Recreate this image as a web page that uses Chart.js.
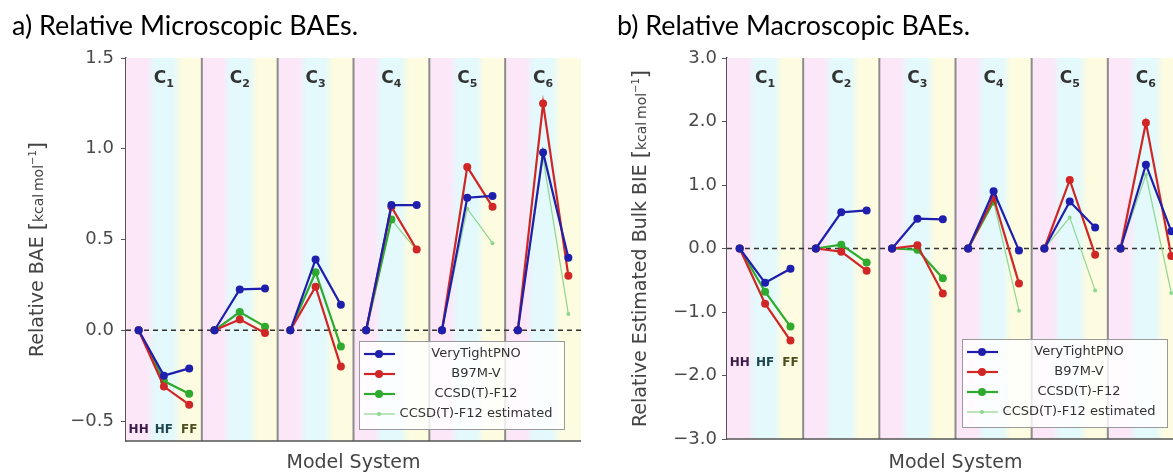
<!DOCTYPE html>
<html lang="en">
<head>
<meta charset="UTF-8">
<title>Relative BAEs</title>
<script src="https://cdn.jsdelivr.net/npm/chart.js@4"></script>
<style>
  html, body { margin: 0; padding: 0; background: #fff; overflow: hidden; }
  body { width: 1173px; height: 472px; position: relative; }
  canvas { position: absolute; top: 0; }
  #micro { left: 0; }
  #macro { left: 600px; }
</style>
</head>
<body>
<canvas id="micro" width="600" height="472"></canvas>
<canvas id="macro" width="600" height="472"></canvas>
<script>
// groups C1..C6, each with three pairs HH / HF / FF
const groupNumbers = ['1', '2', '3', '4', '5', '6'];
const pairLabels = ['HH', 'HF', 'FF'];
const seriesNames = ['VeryTightPNO', 'B97M-V', 'CCSD(T)-F12', 'CCSD(T)-F12 estimated'];

// a) relative microscopic BAEs (kcal/mol)
const microTicks = [-0.5, 0, 0.5, 1.0, 1.5];
const microPNO = [0, -0.25, -0.21, 0, 0.225, 0.23, 0, 0.39, 0.14, 0, 0.69, 0.69, 0, 0.73, 0.74, 0, 0.98, 0.40];
const microB97 = [0, -0.31, -0.41, 0, 0.06, -0.015, 0, 0.24, -0.20, 0, 0.68, 0.445, 0, 0.90, 0.68, 0, 1.25, 0.30];
const microF12 = [0, -0.28, -0.35, 0, 0.10, 0.02, 0, 0.32, -0.09, 0, 0.61, null, 0, null, null, 0, null, null];
const microEst = [null, null, null, null, null, null, null, null, null, 0, 0.61, 0.44, 0, 0.67, 0.48, 0, 0.95, 0.09];

// b) relative macroscopic BAEs (kcal/mol)
const macroTicks = [-3, -2, -1, 0, 1, 2, 3];
const macroPNO = [0, -0.54, -0.32, 0, 0.57, 0.60, 0, 0.47, 0.46, 0, 0.90, -0.03, 0, 0.74, 0.33, 0, 1.32, 0.27];
const macroB97 = [0, -0.87, -1.45, 0, -0.05, -0.35, 0, 0.05, -0.71, 0, 0.80, -0.55, 0, 1.08, -0.10, 0, 1.98, -0.12];
const macroF12 = [0, -0.68, -1.23, 0, 0.06, -0.22, 0, -0.02, -0.47, 0, 0.74, null, 0, null, null, 0, null, null];
const macroEst = [null, null, null, null, null, null, null, null, null, 0, 0.74, -0.98, 0, 0.49, -0.66, 0, 1.16, -0.70];

const colors = ['#1f1fae', '#d12626', '#2eaa2e', '#8fd68f'];
const pairColors = ['#3b1f48', '#1f4750', '#4d4d1f'];
const pink = '#fce7f9', cyan = '#e3f9fc', yellow = '#fdfbe0';
const font = '"DejaVu Sans", sans-serif';

// one point per pair, a null gap between groups so lines stay inside a group
function toPoints(vals) {
  const pts = [];
  vals.forEach((v, i) => {
    if (i > 0 && i % 3 === 0) pts.push({ x: i, y: null });
    pts.push({ x: i + 0.5, y: v });
  });
  return pts;
}

function fmt(v) {
  return v.toFixed(1).replace('-', '\u2212');
}

const panelPlugin = {
  id: 'panel',
  beforeDatasetsDraw(chart) {
    const { ctx, chartArea: a, scales: { x, y } } = chart;
    const p = chart.options.plugins.panel;
    ctx.save();
    // coloured bands
    for (let g = 0; g < groupNumbers.length; g++) {
      const x0 = x.getPixelForValue(g * 3), x1 = x.getPixelForValue(g * 3 + 3);
      const grad = ctx.createLinearGradient(x0, 0, x1, 0);
      grad.addColorStop(0, pink); grad.addColorStop(0.27, pink);
      grad.addColorStop(0.38, cyan); grad.addColorStop(0.62, cyan);
      grad.addColorStop(0.73, yellow); grad.addColorStop(1, yellow);
      ctx.fillStyle = grad;
      ctx.fillRect(x0, a.top, x1 - x0, a.bottom - a.top);
    }
    // group separators
    ctx.strokeStyle = '#8c8c8c';
    ctx.lineWidth = 2;
    for (let g = 1; g < groupNumbers.length; g++) {
      const xx = x.getPixelForValue(g * 3);
      ctx.beginPath(); ctx.moveTo(xx, a.top); ctx.lineTo(xx, a.bottom); ctx.stroke();
    }
    // zero line
    const y0 = y.getPixelForValue(0);
    ctx.strokeStyle = '#333';
    ctx.lineWidth = 1.5;
    ctx.setLineDash([5, 4]);
    ctx.beginPath(); ctx.moveTo(a.left, y0); ctx.lineTo(a.right, y0); ctx.stroke();
    ctx.setLineDash([]);
    // bottom axis
    ctx.strokeStyle = '#555';
    ctx.lineWidth = 1.5;
    ctx.beginPath(); ctx.moveTo(a.left, a.bottom); ctx.lineTo(a.right, a.bottom); ctx.stroke();
    // group labels C1..C6
    ctx.fillStyle = '#333';
    ctx.textBaseline = 'alphabetic';
    for (let g = 0; g < groupNumbers.length; g++) {
      const cx = x.getPixelForValue(g * 3 + 1.5);
      ctx.font = 'bold 17px ' + font;
      const wc = ctx.measureText('C').width;
      ctx.font = 'bold 11px ' + font;
      const ws = ctx.measureText(groupNumbers[g]).width;
      const left = cx - (wc + ws) / 2;
      ctx.font = 'bold 17px ' + font;
      ctx.textAlign = 'left';
      ctx.fillText('C', left, a.top + 25);
      ctx.font = 'bold 11px ' + font;
      ctx.fillText(groupNumbers[g], left + wc, a.top + 29);
    }
    // HH / HF / FF under the first group
    ctx.font = 'bold 12px ' + font;
    ctx.textAlign = 'center';
    ctx.textBaseline = 'middle';
    pairLabels.forEach((t, i) => {
      ctx.fillStyle = pairColors[i];
      ctx.fillText(t, x.getPixelForValue(i + 0.5), y.getPixelForValue(p.pairY));
    });
    ctx.restore();
  },
  afterDatasetsDraw(chart) {
    const { ctx, chartArea: a } = chart;
    const bw = 205, bh = 88;
    const bx = a.right - 17 - bw, by = a.bottom - 12 - bh;
    ctx.save();
    ctx.fillStyle = 'rgba(255,255,255,0.82)';
    ctx.fillRect(bx, by, bw, bh);
    ctx.strokeStyle = '#9a9a9a';
    ctx.lineWidth = 1;
    ctx.strokeRect(bx + 0.5, by + 0.5, bw, bh);
    ctx.font = '13px ' + font;
    ctx.textAlign = 'center';
    ctx.textBaseline = 'middle';
    chart.data.datasets.forEach((ds, i) => {
      const yy = by + 13 + 20 * i;
      ctx.strokeStyle = ds.borderColor;
      ctx.lineWidth = ds.borderWidth;
      ctx.beginPath(); ctx.moveTo(bx + 5, yy); ctx.lineTo(bx + 36, yy); ctx.stroke();
      ctx.fillStyle = ds.backgroundColor;
      ctx.beginPath(); ctx.arc(bx + 20, yy, ds.pointRadius, 0, Math.PI * 2); ctx.fill();
      ctx.fillStyle = '#333';
      ctx.fillText(ds.label, bx + 117, yy);
    });
    ctx.restore();
  },
  afterDraw(chart) {
    const { ctx, chartArea: a } = chart;
    const p = chart.options.plugins.panel;
    ctx.save();
    // panel title, squeezed to the reference width
    ctx.fillStyle = '#000';
    ctx.font = '27px Lato, sans-serif';
    ctx.textAlign = 'left';
    ctx.textBaseline = 'alphabetic';
    const tw = ctx.measureText(p.title).width;
    ctx.save();
    ctx.translate(p.titleX, 35);
    ctx.scale(p.titleW / tw, 1);
    ctx.fillText(p.title, 0, 0);
    ctx.restore();
    // x title
    ctx.fillStyle = '#444';
    ctx.font = '19px ' + font;
    ctx.textAlign = 'center';
    ctx.fillText('Model System', (a.left + a.right) / 2, 468);
    // y title with unit
    const parts = [
      { t: p.yTitle + ' ', f: '19px ' + font, dy: 0 },
      { t: '[', f: '21px ' + font, dy: 1 },
      { t: 'kcal\u2009mol', f: '14px ' + font, dy: 0 },
      { t: '\u22121', f: '10px ' + font, dy: -7 },
      { t: ']', f: '21px ' + font, dy: 1 }
    ];
    let total = 0;
    parts.forEach(q => { ctx.font = q.f; q.w = ctx.measureText(q.t).width; total += q.w; });
    ctx.translate(p.yTitleX, (a.top + a.bottom) / 2);
    ctx.rotate(-Math.PI / 2);
    ctx.textAlign = 'left';
    let cur = -total / 2;
    parts.forEach(q => { ctx.font = q.f; ctx.fillText(q.t, cur, q.dy); cur += q.w; });
    ctx.restore();
  }
};

function makeChart(id, cfg) {
  const sets = [cfg.pno, cfg.b97, cfg.f12, cfg.est];
  return new Chart(document.getElementById(id), {
    type: 'line',
    data: {
      datasets: sets.map((vals, i) => ({
        label: seriesNames[i],
        data: toPoints(vals),
        borderColor: colors[i],
        backgroundColor: colors[i],
        borderWidth: i === 3 ? 1.2 : 2.2,
        pointRadius: i === 3 ? 2 : 4,
        pointBorderWidth: 0,
        spanGaps: false,
        order: i + 1
      }))
    },
    options: {
      responsive: false,
      animation: false,
      layout: { padding: cfg.padding },
      scales: {
        x: { type: 'linear', min: 0, max: 18, display: false },
        y: {
          min: cfg.min, max: cfg.max,
          afterBuildTicks: axis => { axis.ticks = cfg.ticks.map(v => ({ value: v })); },
          afterFit: scale => {
            scale.width = cfg.axisWidth;
            scale.paddingTop = 0; scale.paddingBottom = 0;
          },
          border: { display: true, color: '#555', width: 1.5 },
          grid: { drawOnChartArea: false, drawTicks: true, tickLength: 5, color: '#555' },
          ticks: { color: '#4a4a4a', font: { family: 'DejaVu Sans', size: 18 }, padding: cfg.tickPad, callback: v => fmt(v) }
        }
      },
      plugins: {
        legend: { display: false },
        tooltip: { enabled: false },
        panel: cfg.panel
      }
    },
    plugins: [panelPlugin]
  });
}

makeChart('micro', {
  pno: microPNO, b97: microB97, f12: microF12, est: microEst,
  ticks: microTicks, min: -0.61, max: 1.5,
  axisWidth: 126, tickPad: 7,
  padding: { top: 58, bottom: 31, left: 0, right: 19 },
  panel: { title: 'a) Relative Microscopic BAEs.', titleX: 12, titleW: 346, yTitle: 'Relative BAE', yTitleX: 43, pairY: -0.55 }
});

makeChart('macro', {
  pno: macroPNO, b97: macroB97, f12: macroF12, est: macroEst,
  ticks: macroTicks, min: -3, max: 3,
  axisWidth: 127, tickPad: 5,
  padding: { top: 58, bottom: 33, left: 0, right: 16 },
  panel: { title: 'b) Relative Macroscopic BAEs.', titleX: 17, titleW: 353, yTitle: 'Relative Estimated Bulk BIE', yTitleX: 46, pairY: -1.8 }
});
</script>
</body>
</html>
